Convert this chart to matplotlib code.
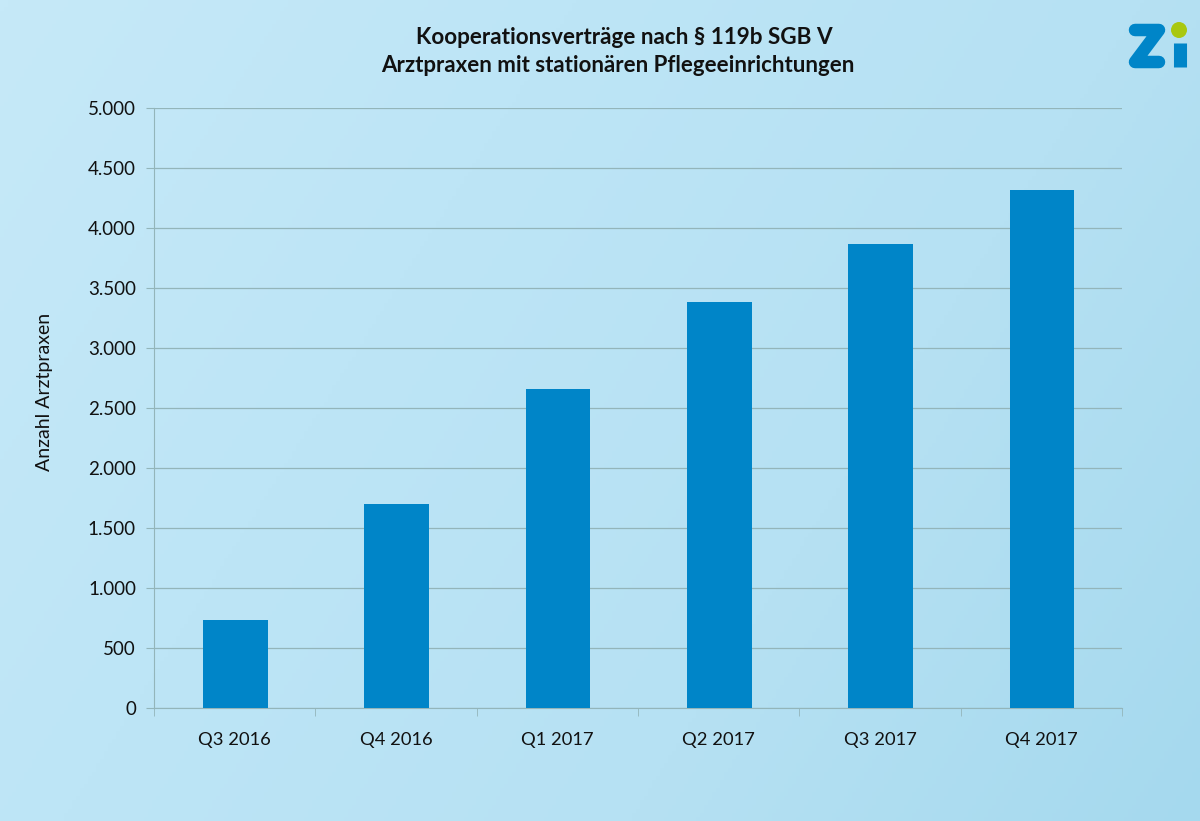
#!/usr/bin/env python3
"""Kooperationsvertraege nach 119b SGB V, bar chart on a light blue gradient."""

import numpy as np
import matplotlib
matplotlib.use('Agg')
import matplotlib.pyplot as plt
from matplotlib.colors import LinearSegmentedColormap
from matplotlib.lines import Line2D
from matplotlib.patches import Circle

quarters = ['Q3 2016', 'Q4 2016', 'Q1 2017', 'Q2 2017', 'Q3 2017', 'Q4 2017']
praxen = [735, 1700, 2660, 3385, 3865, 4315]
y_ticks = [0, 500, 1000, 1500, 2000, 2500, 3000, 3500, 4000, 4500, 5000]
y_labels = ['0', '500', '1.000', '1.500', '2.000', '2.500', '3.000', '3.500', '4.000', '4.500', '5.000']

plt.rcParams['font.family'] = ['Lato', 'DejaVu Sans']

fig = plt.figure(figsize=(12, 8.21), dpi=100)

# background gradient, mostly flat, darker towards bottom right
bg = fig.add_axes([0, 0, 1, 1], zorder=0)
cmap = LinearSegmentedColormap.from_list('bg', ['#c6e9f8', '#bde5f6', '#b6e1f3', '#a5d9ee'])
xx, yy = np.meshgrid(np.linspace(0, 1, 300), np.linspace(0, 1, 200))
bg.imshow(0.7 * xx + 0.3 * yy, cmap=cmap, aspect='auto', extent=[0, 1, 1, 0])
bg.axis('off')

ax = fig.add_axes([154 / 1200, 1 - 708 / 821, (1122 - 154) / 1200, 600 / 821], zorder=1)
ax.patch.set_alpha(0)
x = np.arange(len(quarters))
ax.bar(x + 0.004, praxen, width=0.4, color='#0085c8', zorder=3)
ax.set_xlim(-0.5, 5.5)
ax.set_ylim(0, 5000)
ax.set_yticks(y_ticks)
ax.set_yticklabels(y_labels, fontsize=13.5, color='#111111')
ax.set_xticks(x)
ax.set_xticklabels(quarters, fontsize=13.2, color='#111111')
ax.grid(axis='y', color='#93b5ba', linewidth=0.9, zorder=1)
ax.set_axisbelow(True)
for s in ['top', 'right']:
    ax.spines[s].set_visible(False)
for s in ['left', 'bottom']:
    ax.spines[s].set_color('#93b5ba')
ax.tick_params(axis='y', length=6, color='#93b5ba', pad=7)
ax.tick_params(axis='x', length=0, pad=17)
# category separators on the x axis
ax.set_xticks(np.arange(-0.5, 6.5, 1), minor=True)
ax.tick_params(axis='x', which='minor', length=6, color='#93b5ba')

fig.text(45 / 1200, 1 - 392 / 821, 'Anzahl Arztpraxen', rotation=90, fontsize=14,
         ha='center', va='center', color='#111111')
fig.text(624 / 1200, 1 - 38 / 821, 'Kooperationsverträge nach § 119b SGB V', fontsize=16.2,
         fontweight='bold', ha='center', va='center', color='#111111')
fig.text(618 / 1200, 1 - 66 / 821, 'Arztpraxen mit stationären Pflegeeinrichtungen', fontsize=16,
         fontweight='bold', ha='center', va='center', color='#111111')

# Zi logo, drawn in pixel positions
def px(xp, yp):
    return xp / 1200, 1 - yp / 821

z_pts = [px(1135, 30), px(1159, 30), px(1135, 62), px(1159, 62)]
fig.add_artist(Line2D([p[0] for p in z_pts], [p[1] for p in z_pts], color='#0085c8', linewidth=9,
                      solid_capstyle='round', solid_joinstyle='round', transform=fig.transFigure))
i_pts = [px(1179.5, 43), px(1179.5, 67)]
fig.add_artist(Line2D([p[0] for p in i_pts], [p[1] for p in i_pts], color='#0085c8', linewidth=9.4,
                      solid_capstyle='butt', transform=fig.transFigure))
fig.add_artist(Circle((1179, 821 - 30), 8, transform=None, facecolor='#a9c810', edgecolor='none'))

fig.savefig('out.png', dpi=100)
